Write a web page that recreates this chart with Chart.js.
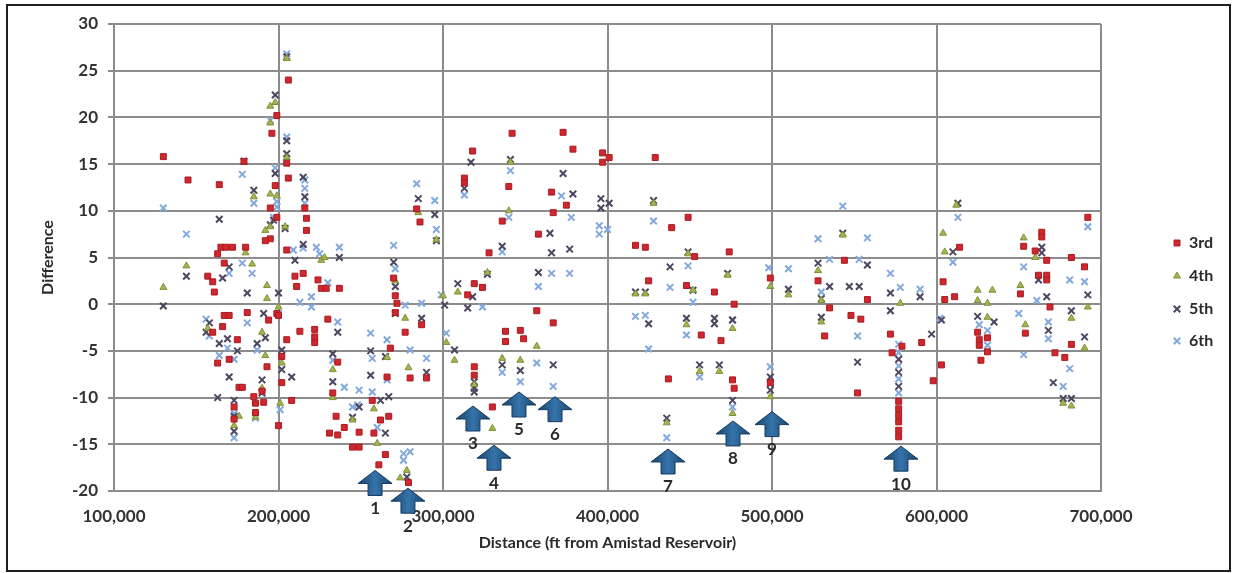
<!DOCTYPE html>
<html lang="en">
<head>
  <meta charset="UTF-8">
  <title>Difference vs Distance</title>
  <script src="https://cdn.jsdelivr.net/npm/chart.js"></script>
  <style>
    body { margin: 0; background: #fff; }
    #wrap { width: 1236px; height: 573px; position: relative; }
  </style>
</head>
<body>
<div id="wrap"><canvas id="diffChart"></canvas></div>
<script>
  // series: [distance ft, difference]
  const pts3rd = [
    [130000,15.8],[145000,13.3],[164000,12.8],[179000,15.3],[165000,6.1],[168000,6.1],[172000,6.1],[180000,6.1],
    [163000,5.4],[167000,4.4],[157000,3.0],[160000,2.4],[161000,1.3],[206000,24.0],[199000,20.2],[196000,18.3],
    [205000,15.1],[206000,13.5],[198000,12.7],[195000,10.3],[199000,9.3],[195000,7.0],[192000,6.8],[205000,5.8],
    [216000,10.3],[217000,9.2],[217000,7.9],[210000,3.0],[215000,3.3],[211000,1.9],[224000,2.6],[226000,1.7],
    [229000,1.7],[237000,1.7],[270000,2.8],[167000,-1.2],[170000,-1.2],[166000,-2.4],[160000,-3.0],[163000,-6.3],
    [170000,-5.9],[175000,-3.8],[176000,-8.9],[178000,-8.9],[173000,-11.0],[173000,-12.3],[186000,-10.6],[186000,-11.6],
    [185000,-9.9],[191000,-10.5],[190000,-9.3],[181000,-0.9],[194000,-1.7],[199000,-1.0],[200000,-13.0],[202000,-5.6],
    [202000,-8.4],[193000,-6.7],[208000,-10.3],[205000,-3.8],[213000,-2.9],[222000,-2.7],[222000,-4.1],[222000,-3.5],
    [230000,-1.6],[236000,-6.2],[233000,-9.5],[235000,-12.0],[231000,-13.8],[236000,-14.0],[240000,-13.2],[245000,-15.3],
    [249000,-15.3],[249000,-13.7],[257000,-10.3],[258000,-13.8],[262000,-12.4],[267000,-12.0],[265000,-16.1],[261000,-17.2],
    [266000,-7.8],[268000,-4.7],[271000,0.9],[272000,0.1],[271000,-0.9],[277000,-3.0],[280000,-7.9],[279000,-19.1],
    [287000,-2.2],[286000,8.8],[284000,10.2],[290000,-7.9],[200000,-1.2],
    [318000,16.4],[342000,18.3],[373000,18.4],[379000,16.6],[397000,16.2],[397000,15.2],[401000,15.7],[313000,13.5],
    [313000,13.0],[340000,12.6],[366000,12.0],[375000,10.6],[367000,9.8],[336000,8.9],[358000,7.5],[328000,5.5],
    [319000,2.2],[324000,1.8],[315000,1.0],[357000,-0.7],[367000,-2.0],[338000,-2.9],[347000,-2.8],[338000,-4.0],
    [349000,-3.7],[319000,-6.7],[319000,-7.6],[330000,-11.0],
    [429000,15.7],[449000,9.3],[439000,8.2],[417000,6.3],[423000,6.1],[453000,5.1],[474000,5.6],[499000,2.8],
    [425000,2.5],[448000,2.0],[465000,1.3],[477000,0.0],[457000,-3.3],[469000,-3.9],[437000,-8.0],[476000,-8.1],
    [477000,-9.0],[499000,-8.4],
    [544000,4.7],[528000,2.5],[558000,0.5],[535000,-0.4],[548000,-1.2],[554000,-1.6],[532000,-3.4],[572000,-3.2],
    [591000,-4.1],[579000,-4.5],[573000,-5.2],[577000,-10.4],[577000,-11.2],[577000,-11.9],[577000,-12.6],[577000,-13.5],
    [577000,-14.2],[603000,-6.5],[598000,-8.2],[552000,-9.5],
    [692000,9.3],[614000,6.1],[664000,7.7],[664000,7.2],[653000,6.2],[660000,5.7],[667000,4.7],[682000,5.0],
    [690000,4.0],[604000,2.4],[605000,0.5],[611000,0.8],[662000,3.1],[667000,3.1],[667000,2.6],[651000,1.1],
    [669000,-0.3],[625000,-3.0],[654000,-3.1],[626000,-3.8],[626000,-4.4],[631000,-3.6],[631000,-5.1],[627000,-6.0],
    [672000,-5.2],[678000,-5.7],[682000,-4.3]
  ];
  const pts4th = [
    [144000,4.1],[130000,1.8],[185000,11.5],[180000,5.5],[184000,4.3],[205000,26.3],[198000,21.6],[195000,21.2],
    [195000,19.4],[205000,15.7],[195000,11.8],[199000,11.6],[195000,8.3],[192000,7.9],[204000,8.3],[226000,4.7],
    [228000,5.0],[157000,-2.6],[186000,-12.1],[173000,-13.0],[190000,-3.0],[192000,-5.5],[202000,-6.3],[201000,-10.6],
    [233000,-7.0],[233000,-10.0],[245000,-12.4],[260000,-14.9],[258000,-11.2],[266000,-5.7],[277000,-1.5],[279000,-6.8],
    [278000,-17.8],[274000,-18.6],[271000,2.5],[285000,9.8],[296000,6.9],[193000,2.0],[193000,0.6],[200000,-0.3],
    [190000,-9.0],[176000,-12.0],
    [341000,15.2],[340000,10.0],[327000,3.4],[309000,1.3],[302000,-4.1],[307000,-6.0],[336000,-5.8],[347000,-6.0],
    [357000,-4.5],[319000,-8.6],[330000,-13.3],[300000,0.9],
    [428000,10.8],[449000,5.4],[473000,3.1],[499000,1.9],[417000,1.1],[423000,1.1],[452000,1.5],[448000,-2.2],
    [476000,-2.6],[456000,-7.2],[468000,-7.2],[476000,-11.7],[499000,-9.9],[436000,-12.7],
    [543000,7.4],[528000,3.6],[510000,1.0],[530000,0.4],[578000,0.1],[530000,-1.9],[612000,10.6],
    [604000,7.6],[605000,5.6],[653000,7.1],[660000,5.0],[651000,2.0],[625000,1.5],[634000,1.5],[625000,0.4],
    [631000,0.1],[692000,-0.3],[682000,-1.5],[631000,-1.4],[654000,-2.2],[690000,-4.7],[677000,-10.6],[682000,-10.9]
  ];
  const pts5th = [
    [130000,-0.2],[144000,3.0],[164000,9.1],[179000,15.3],[185000,12.2],[170000,4.0],[166000,2.8],[205000,26.5],
    [198000,22.4],[205000,17.5],[205000,16.1],[198000,14.0],[197000,9.0],[195000,8.5],[204000,8.1],[215000,13.6],
    [216000,11.5],[215000,6.4],[210000,4.7],[237000,5.0],[270000,4.5],[271000,1.9],[158000,-2.0],[156000,-3.0],
    [164000,-4.2],[169000,-3.7],[175000,-5.0],[170000,-7.8],[173000,-10.3],[173000,-12.0],[173000,-13.6],[163000,-10.0],
    [181000,1.2],[187000,-4.2],[191000,-1.0],[192000,-3.6],[190000,-8.1],[190000,-9.5],[200000,1.2],[202000,-4.9],
    [202000,-7.0],[208000,-7.8],[236000,-3.0],[233000,-5.3],[233000,-8.3],[245000,-12.1],[249000,-11.0],[262000,-10.3],
    [267000,-9.9],[256000,-7.6],[256000,-5.0],[265000,-13.8],[278000,-18.5],[265000,-5.6],[287000,-1.5],[290000,-7.3],
    [285000,11.3],[295000,9.6],[296000,6.8],[301000,-0.1],[271000,-1.0],
    [317000,15.2],[341000,15.5],[373000,14.0],[313000,12.4],[379000,11.8],[396000,11.3],[396000,10.3],[401000,10.8],
    [365000,7.6],[336000,6.2],[366000,5.5],[377000,5.9],[327000,3.2],[358000,3.4],[309000,2.2],[318000,0.8],
    [315000,-0.4],[307000,-4.9],[336000,-6.5],[347000,-7.1],[367000,-6.5],[319000,-8.3],[319000,-9.0],[319000,-9.4],
    [428000,11.1],[449000,5.6],[438000,4.0],[473000,3.3],[417000,1.3],[423000,1.3],[452000,1.5],[425000,-2.1],
    [448000,-1.5],[465000,-1.5],[465000,-2.1],[476000,-1.7],[456000,-6.5],[468000,-6.5],[476000,-10.3],[499000,-7.8],
    [499000,-8.5],[499000,-9.2],[436000,-12.2],
    [543000,7.6],[528000,4.4],[558000,4.2],[510000,1.6],[535000,1.9],[547000,1.9],[553000,1.9],[590000,0.8],
    [572000,1.2],[530000,0.6],[572000,-0.7],[530000,-1.4],[597000,-3.2],[577000,-5.9],[577000,-7.3],[577000,-8.8],
    [552000,-6.2],[613000,10.8],
    [610000,5.6],[664000,6.1],[664000,5.5],[662000,2.6],[692000,1.0],[667000,0.8],[682000,-0.7],[603000,-1.7],
    [635000,-1.9],[668000,-2.8],[690000,-3.5],[671000,-8.4],[677000,-10.1],[682000,-10.1],[625000,-1.3]
  ];
  const pts6th = [
    [130000,10.3],[144000,7.5],[178000,13.9],[185000,10.8],[178000,4.4],[184000,3.3],[170000,3.3],[205000,26.8],
    [195000,19.7],[205000,17.9],[198000,14.6],[199000,11.0],[199000,10.4],[197000,9.3],[216000,13.3],[216000,12.4],
    [216000,10.8],[215000,6.0],[209000,5.8],[223000,6.1],[225000,5.4],[237000,6.1],[230000,2.3],[270000,6.3],
    [271000,3.8],[284000,12.9],[156000,-1.6],[158000,-3.4],[164000,-5.5],[169000,-4.7],[173000,-5.9],[173000,-11.7],
    [173000,-14.3],[181000,-2.0],[187000,-4.9],[186000,-12.2],[200000,-1.0],[201000,-11.3],[213000,0.2],[220000,0.8],
    [220000,-0.3],[236000,-1.9],[233000,-6.0],[240000,-8.9],[245000,-11.0],[249000,-9.2],[248000,-10.8],[256000,-3.1],
    [257000,-5.8],[257000,-9.4],[260000,-13.2],[266000,-8.1],[266000,-3.8],[277000,-0.1],[280000,-4.9],[276000,-16.0],
    [280000,-15.8],[276000,-16.7],[287000,0.1],[290000,-5.8],[295000,11.1],[296000,8.0],[299000,1.0],
    [341000,14.3],[313000,11.7],[340000,9.3],[372000,11.6],[378000,9.3],[395000,8.4],[395000,7.5],[400000,8.0],
    [336000,5.6],[366000,3.3],[377000,3.3],[358000,1.9],[324000,-0.3],[302000,-3.1],[357000,-6.3],[347000,-8.3],
    [367000,-8.8],[336000,-7.3],
    [428000,8.9],[449000,4.1],[498000,3.9],[438000,1.8],[452000,0.2],[417000,-1.3],[423000,-1.2],[448000,-3.3],
    [476000,-1.7],[425000,-4.8],[456000,-7.8],[476000,-11.0],[499000,-6.7],[436000,-14.3],
    [543000,10.5],[528000,7.0],[558000,7.1],[535000,4.8],[553000,4.8],[510000,3.8],[572000,3.3],[578000,1.8],
    [590000,1.6],[530000,1.3],[602000,-1.5],[552000,-3.4],[577000,-4.3],[577000,-5.2],[577000,-6.6],[577000,-8.0],
    [577000,-9.5],[613000,9.3],
    [610000,4.5],[692000,8.3],[653000,4.0],[681000,2.6],[690000,2.4],[661000,0.4],[650000,-1.0],[626000,-2.2],
    [631000,-2.8],[668000,-1.9],[668000,-3.7],[631000,-4.4],[653000,-5.4],[681000,-6.9],[677000,-8.8]
  ];

  // numbered arrows (tip position in data units)
  const arrowX = [258700, 278700, 318200, 331000, 346200, 368100, 436800, 476300, 500000, 578400];
  const arrowY = [-17.8, -19.7, -10.9, -15.1, -9.4, -9.9, -15.5, -12.5, -11.5, -15.2];
  const arrowText = ['1', '2', '3', '4', '5', '6', '7', '8', '9', '10'];

  const seriesNames = ['3rd', '4th', '5th', '6th'];
  const seriesPts = [pts3rd, pts4th, pts5th, pts6th];

  const styles = [
    { shape: 'rect', r: 4.2, fill: '#d0262d', line: '#a81c22', w: 1 },
    { shape: 'triangle', r: 4, fill: '#a3b552', line: '#7f9236', w: 1 },
    { shape: 'crossRot', r: 4.6, fill: '#4d4660', line: '#4d4660', w: 2 },
    { shape: 'crossRot', r: 4.6, fill: '#82a8dd', line: '#82a8dd', w: 2 }
  ];

  const FONT = 'Lato, "Open Sans", sans-serif';

  const datasets = seriesNames.map((name, i) => ({
    label: name,
    data: seriesPts[i].map(p => ({ x: p[0], y: p[1] })),
    pointStyle: styles[i].shape,
    pointRadius: styles[i].r,
    backgroundColor: styles[i].fill,
    borderColor: styles[i].line,
    borderWidth: styles[i].w
  }));

  function marker(ctx, s, x, y) {
    ctx.save();
    ctx.fillStyle = s.fill;
    ctx.strokeStyle = s.line;
    ctx.lineWidth = s.w;
    ctx.beginPath();
    if (s.shape === 'rect') {
      const h = s.r * Math.SQRT1_2;
      ctx.rect(x - h, y - h, 2 * h, 2 * h);
      ctx.fill(); ctx.stroke();
    } else if (s.shape === 'triangle') {
      ctx.moveTo(x, y - s.r);
      ctx.lineTo(x + s.r * 0.87, y + s.r / 2);
      ctx.lineTo(x - s.r * 0.87, y + s.r / 2);
      ctx.closePath();
      ctx.fill(); ctx.stroke();
    } else {
      const h = s.r * Math.SQRT1_2;
      ctx.moveTo(x - h, y - h); ctx.lineTo(x + h, y + h);
      ctx.moveTo(x + h, y - h); ctx.lineTo(x - h, y + h);
      ctx.stroke();
    }
    ctx.restore();
  }

  // white page with the scanned frame
  const framePlugin = {
    id: 'frame',
    beforeDraw(chart) {
      const ctx = chart.ctx;
      ctx.save();
      ctx.fillStyle = '#ffffff';
      ctx.fillRect(0, 0, chart.width, chart.height);
      ctx.strokeStyle = '#1e1e1e';
      ctx.lineWidth = 2;
      ctx.strokeRect(7, 5, 1223, 566);
      ctx.restore();
    }
  };

  // arrows + custom legend
  const notesPlugin = {
    id: 'notes',
    afterDraw(chart) {
      const ctx = chart.ctx;
      const xs = chart.scales.x, ys = chart.scales.y;
      ctx.save();
      arrowX.forEach((v, i) => {
        const px = xs.getPixelForValue(v);
        const py = ys.getPixelForValue(arrowY[i]);
        const g = ctx.createLinearGradient(px - 17, 0, px + 17, 0);
        g.addColorStop(0, '#1b4670');
        g.addColorStop(0.5, '#3573aa');
        g.addColorStop(1, '#1b4670');
        ctx.beginPath();
        ctx.moveTo(px, py);
        ctx.lineTo(px + 17, py + 13);
        ctx.lineTo(px + 7, py + 13);
        ctx.lineTo(px + 7, py + 25);
        ctx.lineTo(px - 7, py + 25);
        ctx.lineTo(px - 7, py + 13);
        ctx.lineTo(px - 17, py + 13);
        ctx.closePath();
        ctx.fillStyle = g;
        ctx.fill();
        ctx.strokeStyle = '#163a5e';
        ctx.lineWidth = 1;
        ctx.stroke();
        ctx.fillStyle = '#2a2a2a';
        ctx.font = 'bold 17px ' + FONT;
        ctx.textAlign = 'center';
        ctx.textBaseline = 'middle';
        ctx.fillText(arrowText[i], px, py + 38);
      });

      const legendY = [243, 276, 309, 341];
      ctx.font = 'bold 16px ' + FONT;
      ctx.textAlign = 'left';
      ctx.textBaseline = 'middle';
      seriesNames.forEach((name, i) => {
        marker(ctx, styles[i], 1177, legendY[i]);
        ctx.fillStyle = '#2a2a2a';
        ctx.fillText(name, 1189, legendY[i]);
      });
      ctx.restore();
    }
  };

  const tickFont = { family: FONT, weight: 'bold', size: 17 };
  const titleFont = { family: FONT, weight: 'bold', size: 16 };

  new Chart(document.getElementById('diffChart'), {
    type: 'scatter',
    data: { datasets: datasets },
    options: {
      responsive: true,
      maintainAspectRatio: false,
      animation: false,
      layout: { padding: { left: 10, right: 135, top: 24, bottom: 10 } },
      plugins: { legend: { display: false }, tooltip: { enabled: false } },
      scales: {
        x: {
          type: 'linear',
          min: 100000,
          max: 700000,
          ticks: {
            stepSize: 100000,
            padding: 15,
            color: '#333333',
            font: tickFont,
            maxRotation: 0,
            callback: v => v.toLocaleString('en-US')
          },
          grid: { color: '#8c8c8c', lineWidth: 2, drawTicks: false },
          border: { color: '#8c8c8c', width: 2 },
          title: {
            display: true,
            text: 'Distance (ft from Amistad Reservoir)',
            color: '#2a2a2a',
            font: titleFont,
            padding: { top: 0, bottom: 11 }
          },
          afterFit: s => { s.height = 72; }
        },
        y: {
          min: -20,
          max: 30,
          ticks: { stepSize: 5, padding: 10, color: '#333333', font: tickFont },
          grid: { color: '#8c8c8c', lineWidth: 2, tickLength: 6 },
          border: { color: '#8c8c8c', width: 2 },
          title: {
            display: true,
            text: 'Difference',
            color: '#2a2a2a',
            font: titleFont,
            padding: { top: 28, bottom: 0 }
          },
          afterFit: s => { s.width = 104; }
        }
      }
    },
    plugins: [framePlugin, notesPlugin]
  });
</script>
</body>
</html>
